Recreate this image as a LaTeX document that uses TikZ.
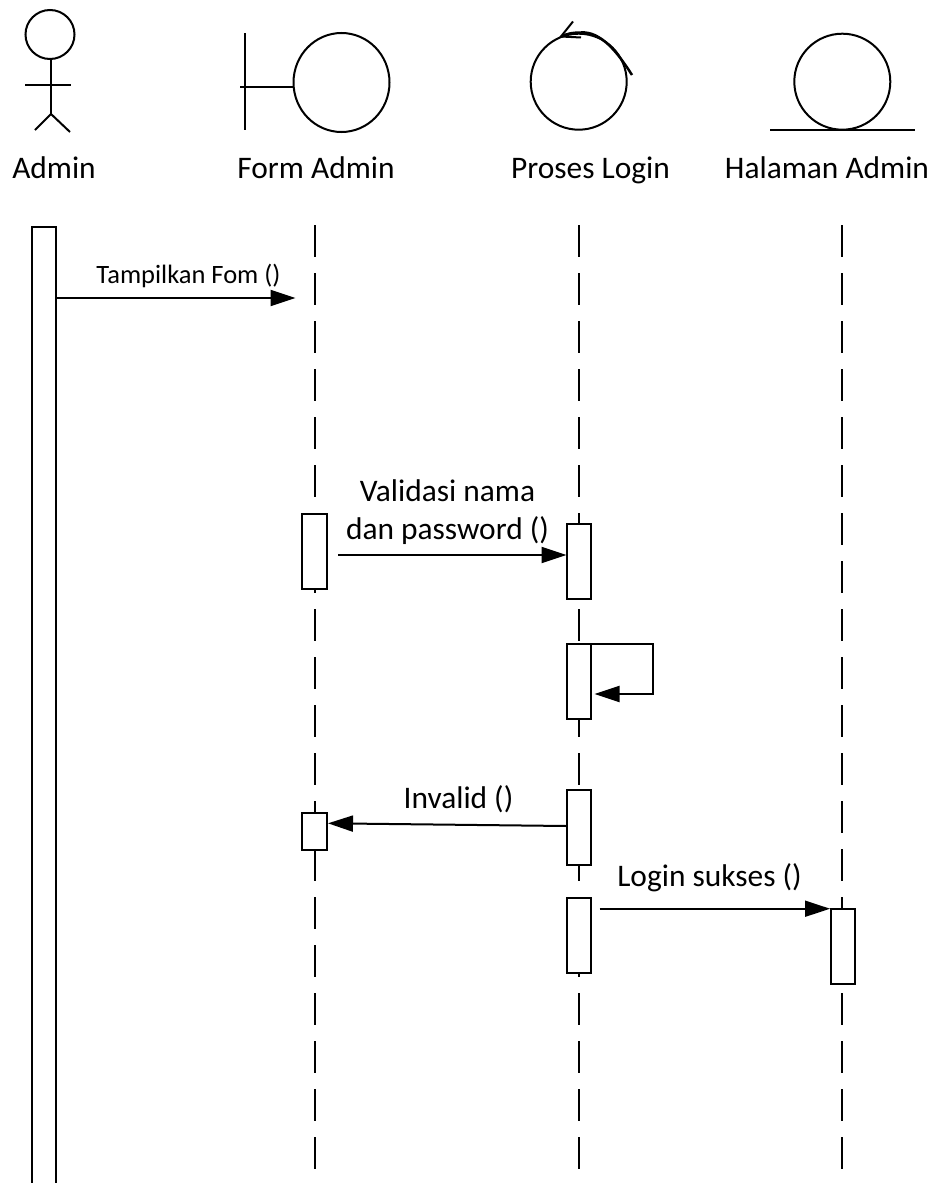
\documentclass[tikz,border=0pt]{standalone}
\usepackage{fontspec}
\setmainfont{Carlito}
\usetikzlibrary{arrows.meta}
\tikzset{
  shape line/.style={draw=black,line width=2pt},
  lifeline/.style={draw=black,line width=1.9pt,dash pattern=on 32pt off 16pt},
  bar/.style={draw=black,fill=white,line width=2pt,rectangle,inner sep=0pt,minimum width=24pt},
  message/.style={draw=black,line width=2pt,-{Triangle[length=25pt,width=16pt]}},
  big label/.style={anchor=base,inner sep=0pt,font=\fontsize{31.4}{38}\selectfont},
  small label/.style={anchor=base,inner sep=0pt,font=\fontsize{26.5}{32}\selectfont},
}
\begin{document}
\begin{tikzpicture}[x=1pt,y=-1pt]
\useasboundingbox (0,0) rectangle (935,1183);
% actor
\draw[shape line] (50,34.5) circle[radius=24.5];
\draw[shape line] (51,59) -- (51,114);
\draw[shape line] (25,84.5) -- (71,84.5);
\draw[shape line] (35,130) -- (51,114) -- (70,132);
% boundary
\draw[shape line] (245,33) -- (245,130);
\draw[shape line] (240,86.5) -- (293.5,86.5);
\draw[shape line] (341.5,82.5) ellipse[x radius=48,y radius=49.5];
% control
\draw[shape line] (578.7,81.7) circle[radius=48];
\draw[shape line,line width=2.5pt] (632,75) .. controls (618,53) and (601,31) .. (581,32.5) .. controls (572,32.5) and (566,34) .. (561,36.5);
\draw[shape line] (573,21.5) -- (561,36.5) -- (581,37.5);
% entity
\draw[shape line] (842.3,81.7) circle[radius=48];
\draw[shape line] (770,129.7) -- (915,129.7);
% titles
\node[big label] (tAdmin) at (54,178) {Admin};
\node[big label] (tForm) at (316,178) {Form Admin};
\node[big label] (tProses) at (590.5,178) {Proses Login};
\node[big label] (tHalaman) at (827,178) {Halaman Admin};
% lifelines
\coordinate (fTop) at (315,225);   \coordinate (fEnd) at (315,1169);
\coordinate (pTop) at (578.7,225); \coordinate (pEnd) at (578.7,1169);
\coordinate (hTop) at (842.3,225); \coordinate (hEnd) at (842.3,1169);
\draw[lifeline] (fTop) -- (fEnd);
\draw[lifeline] (pTop) -- (pEnd);
\draw[lifeline] (hTop) -- (hEnd);
% admin bar
\draw[bar] (32,1190) -- (32,226.5) -- (56,226.5) -- (56,1190);
% activation bars
\node[bar,minimum width=24.5pt,minimum height=75pt]  (f1) at (314.7,551.2) {};
\node[bar,minimum width=24.5pt,minimum height=37.6pt] (f2) at (314.7,831.5) {};
\node[bar,minimum height=75pt] (p1) at (578.7,561.5) {};
\node[bar,minimum height=75pt] (p2) at (578.7,681.8) {};
\node[bar,minimum height=75pt] (p3) at (578.7,827.6) {};
\node[bar,minimum height=75pt] (p4) at (578.7,935.6) {};
\node[bar,minimum height=75pt] (h1) at (842.5,946) {};
% message ends
\coordinate (m1a) at (56,298);    \coordinate (m1b) at (295.5,298);
\coordinate (m2a) at (338,555);   \coordinate (m2b) at (566.5,555);
\coordinate (m3a) at (592,643.5); \coordinate (m3c) at (653,643.5);
\coordinate (m3d) at (653,694);   \coordinate (m3b) at (594.5,694);
\coordinate (m4a) at (566.5,826); \coordinate (m4b) at (328,823.3);
\coordinate (m5a) at (599.6,908.7); \coordinate (m5b) at (830,908.7);
\draw[message] (m1a) -- (m1b);
\draw[message] (m2a) -- (m2b);
\draw[message] (m3a) -- (m3c) -- (m3d) -- (m3b);
\draw[message] (m4a) -- (m4b);
\draw[message] (m5a) -- (m5b);
% labels
\node[small label] (l1) at (188.5,283) {Tampilkan Fom ()};
\node[big label] (l2a) at (447.5,501.7) {Validasi nama};
\node[big label] (l2b) at (447.5,539) {dan password ()};
\node[big label] (l3) at (458.5,808) {Invalid ()};
\node[big label] (l4) at (709.5,886.7) {Login sukses ()};
\end{tikzpicture}
\end{document}
